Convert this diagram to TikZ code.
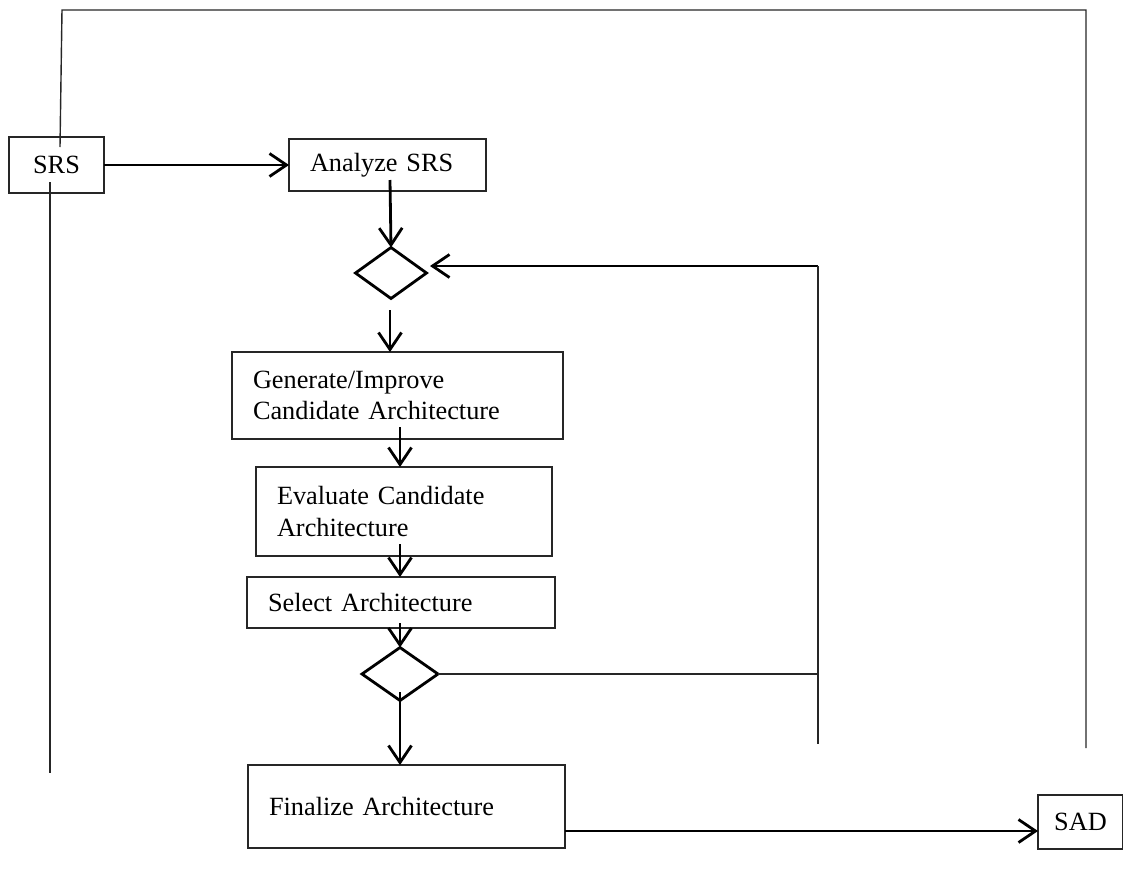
\documentclass[tikz,border=0pt]{standalone}
\usepackage{fontspec}
\setmainfont{Liberation Serif}
\usetikzlibrary{arrows.meta,shapes.geometric}
\begin{document}
\begin{tikzpicture}[x=1pt,y=-1pt,
  font=\fontsize{26.3}{31.5}\selectfont,
  thin line/.style={line width=1.4pt,draw=black!85},
  thick line/.style={line width=2.8pt},
  arr/.style={thick line,-{Straight Barb[length=17pt,width=23pt,line width=2.8pt]}},
  box/.style={draw,thin line,rectangle,inner ysep=0pt,outer sep=0pt,anchor=north west},
  lbox/.style={box,align=left,inner xsep=21pt},
  dia/.style={draw,line width=2.8pt,diamond,inner sep=0pt,outer sep=0pt}]
\useasboundingbox (0,0) rectangle (1123,873);
% boxes
\node[box,minimum width=95pt,minimum height=56pt,inner xsep=0pt] (srs) at (9,137) {SRS};
\node[lbox,text width=155pt,minimum height=52pt] (ana) at (289,139) {Analyze SRS};
\node[dia,minimum width=71pt,minimum height=51pt] (d1) at (391,273) {};
\node[lbox,text width=289pt,minimum height=87pt] (gen) at (232,352) {Generate/Improve\\Candidate Architecture};
\node[lbox,text width=254pt,minimum height=89pt] (eva) at (256,467) {Evaluate Candidate\\Architecture};
\node[lbox,text width=266pt,minimum height=51pt] (sel) at (247,577) {Select Architecture};
\node[dia,minimum width=76pt,minimum height=53pt] (d2) at (400,674) {};
\node[lbox,text width=275pt,minimum height=83pt] (fin) at (248,765) {Finalize Architecture};
\node[box,minimum width=85pt,minimum height=54pt,inner xsep=0pt] (sad) at (1038,795) {SAD};
% coordinates
\coordinate (srsin) at (60,147);
\coordinate (tl) at (62,10);
\coordinate (tr) at (1086,10);
\coordinate (br) at (1086,748);
\coordinate (srsbin) at (50,182);
\coordinate (srsbend) at (50,773);
\coordinate (loopt) at (818,266);
\coordinate (loopb) at (818,744);
\coordinate (anain) at (390,180);
\coordinate (d1tip) at (430,266);
\coordinate (d1out) at (390,310);
\coordinate (genin) at (400,427);
\coordinate (evain) at (400,544);
\coordinate (selin) at (400,623);
\coordinate (d2out) at (400,692);
\coordinate (finout) at (565,831);
\coordinate (sadin) at (1038,831);
% connectors
\draw[thin line] (srsin) -- (tl) -- (tr) -- (br);
\draw[thin line] (srsbin) -- (srsbend);
\draw[arr] (srs.east) -- (ana.west);
\draw[arr] (anain) -- (d1.north);
\draw[arr] (loopt) -- (d1tip);
\draw[thin line] (loopt) -- (loopb);
\draw[arr] (d1out) -- (gen.north -| d1out);
\draw[arr] (genin) -- (eva.north -| genin);
\draw[arr] (evain) -- (sel.north -| evain);
\draw[arr] (selin) -- (d2.north);
\draw[thin line] (d2.east) -- (d2.east -| loopt);
\draw[arr] (d2out) -- (fin.north -| d2out);
\draw[arr] (finout) -- (sadin);
\end{tikzpicture}
\end{document}
